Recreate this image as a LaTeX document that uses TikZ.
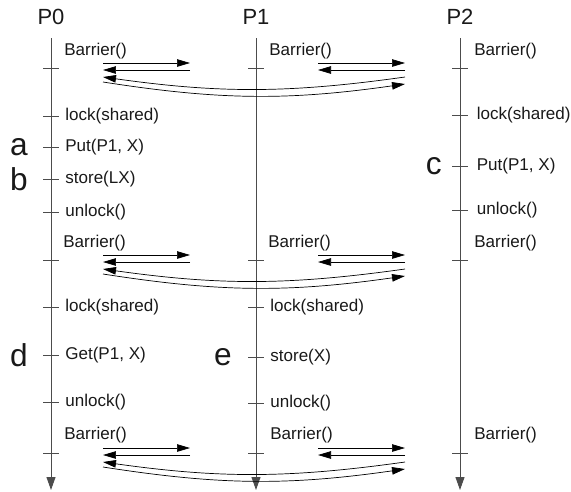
\documentclass[tikz,border=0pt]{standalone}
\usepackage{fontspec}
\setmainfont{Liberation Sans}
\usetikzlibrary{arrows.meta}

\begin{document}
\begin{tikzpicture}[x=0.02cm, y=-0.02cm,
	tl/.style={draw=black!70, line width=0.55pt, -{Triangle[length=2.6mm,width=1.8mm]}},
	tick/.style={fill=black!70, minimum width=0.32cm, minimum height=0.55pt, inner sep=0pt, outer sep=0pt},
	ev/.style={font=\fontsize{9.7}{11}\selectfont, inner sep=0pt, text=black!90},
	lab/.style={ev, xshift=0.12cm},
	labr/.style={ev, xshift=0.17cm},
	txt/.style={ev, anchor=west},
	proc/.style={font=\fontsize{12.5}{14}\selectfont, inner sep=0pt, text=black!90},
	mk/.style={font=\fontsize{18}{20}\selectfont, inner sep=0pt, anchor=east, text=black!90},
	msg/.style={draw=black, line width=0.4pt, -{Triangle[length=2.6mm,width=1.5mm]}}]
		\useasboundingbox (0,0) rectangle (571,491);
		
		% Processes
		\node[proc] (P0) at (51,17) {P0};
		\node[proc] (P1) at (256,17) {P1};
		\node[proc] (P2) at (460,17) {P2};
		\coordinate (s0) at (51,38);  \coordinate (e0) at (51,490);
		\coordinate (s1) at (256,38); \coordinate (e1) at (256,490);
		\coordinate (s2) at (460,38); \coordinate (e2) at (460,490);
		\draw[tl] (s0) -- (e0);
		\draw[tl] (s1) -- (e1);
		\draw[tl] (s2) -- (e2);
		
		% Events of P0
		\node[tick] (p0bar1) at (51,68) {};
		\node[tick, label={[lab]right:lock(shared)}] (p0lock1) at (51,116) {};
		\node[tick, label={[lab]right:Put(P1, X)}] (p0put) at (51,147) {};
		\node[tick, label={[lab]right:store(LX)}] (p0store) at (51,179) {};
		\node[tick, label={[lab]right:unlock()}] (p0unlock1) at (51,212) {};
		\node[tick] (p0bar2) at (51,260) {};
		\node[tick, label={[lab]right:lock(shared)}] (p0lock2) at (51,307) {};
		\node[tick, label={[lab]right:Get(P1, X)}] (p0get) at (51,355) {};
		\node[tick, label={[lab]right:unlock()}] (p0unlock2) at (51,402) {};
		\node[tick] (p0bar3) at (51,453) {};
		
		% Events of P1
		\node[tick] (p1bar1) at (256,68) {};
		\node[tick] (p1bar2) at (256,260) {};
		\node[tick, label={[lab]right:lock(shared)}] (p1lock) at (256,307) {};
		\node[tick, label={[lab]right:store(X)}] (p1store) at (256,357) {};
		\node[tick, label={[lab]right:unlock()}] (p1unlock) at (256,403) {};
		\node[tick] (p1bar3) at (256,453) {};
		
		% Events of P2
		\node[tick] (p2bar1) at (460,68) {};
		\node[tick, label={[labr]right:lock(shared)}] (p2lock) at (460,115) {};
		\node[tick, label={[labr]right:Put(P1, X)}] (p2put) at (460,166) {};
		\node[tick, label={[labr]right:unlock()}] (p2unlock) at (460,210) {};
		\node[tick] (p2bar2) at (460,260) {};
		\node[tick] (p2bar3) at (460,453) {};
		
		% Barrier texts
		\node[txt] (t0bar1) at (64,51) {Barrier()};
		\node[txt] (t1bar1) at (269,51) {Barrier()};
		\node[txt] (t2bar1) at (474,51) {Barrier()};
		\node[txt] (t0bar2) at (63,243) {Barrier()};
		\node[txt] (t1bar2) at (268,243) {Barrier()};
		\node[txt] (t2bar2) at (474,243) {Barrier()};
		\node[txt] (t0bar3) at (64,435) {Barrier()};
		\node[txt] (t1bar3) at (270,435) {Barrier()};
		\node[txt] (t2bar3) at (474,435) {Barrier()};
		
		% Marks
		\node[mk] (ma) at (28,147) {a};
		\node[mk] (mb) at (28,179) {b};
		\node[mk] (mc) at (442,166) {c};
		\node[mk] (md) at (28,355) {d};
		\node[mk] (me) at (232,357) {e};
		
		% Barrier messages
		\foreach \n/\t in {1/68, 2/260, 3/453} {
			\coordinate (a\n) at (103,\t-5); \coordinate (b\n) at (190,\t-5);
			\coordinate (c\n) at (190,\t+2); \coordinate (d\n) at (103,\t+2);
			\coordinate (e\n) at (318,\t-5); \coordinate (f\n) at (405,\t-5);
			\coordinate (g\n) at (405,\t+2); \coordinate (h\n) at (318,\t+2);
			\coordinate (i\n) at (405,\t+9); \coordinate (j\n) at (103,\t+9);
			\coordinate (k\n) at (103,\t+14); \coordinate (l\n) at (405,\t+16);
			\draw[msg] (a\n) -- (b\n);
			\draw[msg] (c\n) -- (d\n);
			\draw[msg] (e\n) -- (f\n);
			\draw[msg] (g\n) -- (h\n);
			\draw[msg] (i\n) to[bend left=8] (j\n);
			\draw[msg] (k\n) to[bend right=8.5] (l\n);
		}
	\end{tikzpicture}
\end{document}
